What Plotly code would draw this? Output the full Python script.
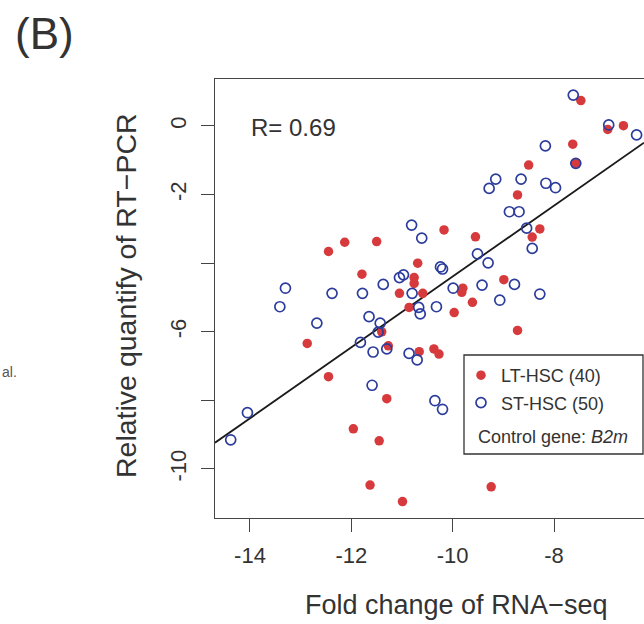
import numpy as np
import plotly.graph_objects as go

# LT-HSC (filled red)
lt_x = [-12.13, -11.50, -12.45, -10.69, -11.79, -10.76, -10.76, -11.05, -10.59, -10.86,
        -11.40, -12.87, -11.27, -10.66, -12.45, -11.30, -11.96, -11.45, -11.63, -10.99,
        -7.47, -6.94, -6.63, -7.63, -7.57, -8.50, -8.72, -8.28, -8.43, -10.17,
        -9.55, -8.99, -9.80, -9.82, -9.61, -9.97, -8.72, -10.37, -10.27, -9.24]
lt_y = [-3.39, -3.37, -3.66, -4.00, -4.32, -4.42, -4.59, -4.88, -4.88, -5.29,
        -6.00, -6.34, -6.41, -6.58, -7.31, -7.95, -8.83, -9.18, -10.47, -10.95,
        0.74, -0.10, 0.01, -0.53, -1.09, -1.14, -2.01, -3.00, -3.24, -3.03,
        -3.23, -4.48, -4.73, -4.85, -5.14, -5.44, -5.96, -6.50, -6.65, -10.52]

# ST-HSC (open blue)
st_x = [-10.81, -10.61, -10.97, -11.05, -11.37, -13.30, -12.38, -11.78, -10.80, -13.41,
        -10.67, -10.64, -12.68, -11.65, -11.43, -11.47, -11.82, -11.57, -11.30, -10.86,
        -10.70, -11.59, -14.05, -14.38, -7.62, -6.92, -6.37, -8.17, -7.57, -9.15,
        -9.28, -8.65, -8.16, -7.97, -8.88, -8.69, -8.54, -8.43, -9.51, -9.30,
        -10.20, -10.24, -8.78, -9.42, -9.99, -8.28, -10.32, -9.07, -10.35, -10.20]
st_y = [-2.89, -3.27, -4.34, -4.42, -4.62, -4.73, -4.88, -4.88, -4.88, -5.27,
        -5.29, -5.48, -5.75, -5.56, -5.75, -6.01, -6.31, -6.59, -6.50, -6.63,
        -6.82, -7.56, -8.36, -9.15, 0.90, 0.03, -0.26, -0.58, -1.09, -1.55,
        -1.82, -1.55, -1.67, -1.80, -2.50, -2.50, -2.98, -3.57, -3.73, -3.99,
        -4.17, -4.11, -4.62, -4.64, -4.73, -4.90, -5.27, -5.08, -8.01, -8.26]

x_ticks = [-14, -12, -10, -8]
x_ticktext = ["-14", "-12", "-10", "-8"]
y_ticks = [0, -2, -4, -6, -8, -10]
y_ticktext = ["0", "-2", "", "-6", "", "-10"]

x_range = [-14.69, -6.224]
y_range = [-11.43, 1.37]

FONT = "Liberation Sans, Arial, sans-serif"
TXT = "#333333"

all_x = np.array(lt_x + st_x)
all_y = np.array(lt_y + st_y)
slope, intercept = np.polyfit(all_x, all_y, 1)
line_x = np.array(x_range)
line_y = slope * line_x + intercept

fig = go.Figure()
fig.add_trace(go.Scatter(x=line_x, y=line_y, mode="lines",
                         line=dict(color="#1a1a1a", width=1.8),
                         showlegend=False, hoverinfo="skip"))
fig.add_trace(go.Scatter(x=lt_x, y=lt_y, mode="markers", name="LT-HSC (40)",
                         marker=dict(symbol="circle", size=9.5, color="#d63a3c",
                                     line=dict(width=0)), legendgroup="a"))
fig.add_trace(go.Scatter(x=st_x, y=st_y, mode="markers", name="ST-HSC (50)",
                         marker=dict(symbol="circle-open", size=10, color="#2b3c9c",
                                     line=dict(width=1.7)), legendgroup="b"))

W, H = 644, 624
L, R, T, B = 215, 0, 79, 106
pw, ph = W - L - R, H - T - B

def px(xp):
    return (xp - L) / pw

def py(yp):
    return (H - B - yp) / ph

fig.update_layout(
    width=W, height=H,
    margin=dict(l=L, r=R, t=T, b=B),
    paper_bgcolor="white", plot_bgcolor="white",
    font=dict(family=FONT, color=TXT),
    showlegend=True,
    legend=dict(x=px(461), xanchor="left", y=py(357), yanchor="top",
                bgcolor="rgba(0,0,0,0)", borderwidth=0,
                font=dict(size=18, color=TXT), tracegroupgap=1,
                itemsizing="trace"),
)
fig.update_xaxes(range=x_range, tickvals=x_ticks, ticktext=x_ticktext,
                 showgrid=False, zeroline=False, showline=True, mirror=True,
                 linecolor="#444444", linewidth=1.3, ticks="outside", ticklen=13,
                 tickwidth=1.3, tickcolor="#444444",
                 tickfont=dict(size=22, color=TXT), ticklabelstandoff=4)
fig.update_yaxes(range=y_range, tickvals=y_ticks, ticktext=y_ticktext,
                 showgrid=False, zeroline=False, showline=True, mirror=False,
                 linecolor="#444444", linewidth=1.3, ticks="outside", ticklen=13,
                 tickwidth=1.3, tickcolor="#444444", tickangle=-90,
                 tickfont=dict(size=22, color=TXT), ticklabelstandoff=6)

fig.add_shape(type="rect", xref="paper", yref="paper",
              x0=px(464), x1=px(643), y0=py(454), y1=py(355),
              line=dict(color="#333333", width=1.3), fillcolor="rgba(0,0,0,0)")

annots = [
    dict(text="R= 0.69", x=px(249), y=py(127), xanchor="left", yanchor="middle",
         font=dict(size=24)),
    dict(text="Control gene: <i>B2m</i>", x=px(476), y=py(437), xanchor="left",
         yanchor="middle", font=dict(size=18)),
    dict(text="(B)", x=px(13), y=py(34), xanchor="left", yanchor="middle",
         font=dict(size=44)),
    dict(text="al.", x=px(0), y=py(372), xanchor="left", yanchor="middle",
         font=dict(size=14, color="#555555")),
    dict(text="Fold change of RNA\u2212seq", x=px(456), y=py(605), xanchor="center",
         yanchor="middle", font=dict(size=27)),
    dict(text="Relative quantify of RT\u2212PCR", x=px(126), y=py(296), xanchor="center",
         yanchor="middle", textangle=-90, font=dict(size=28.5)),
]
for a in annots:
    a.update(xref="paper", yref="paper", showarrow=False)
    fig.add_annotation(**a)

fig.write_html("out.html", config={"displayModeBar": False},
               post_script="document.body.style.margin='0';document.body.style.padding='0';")
